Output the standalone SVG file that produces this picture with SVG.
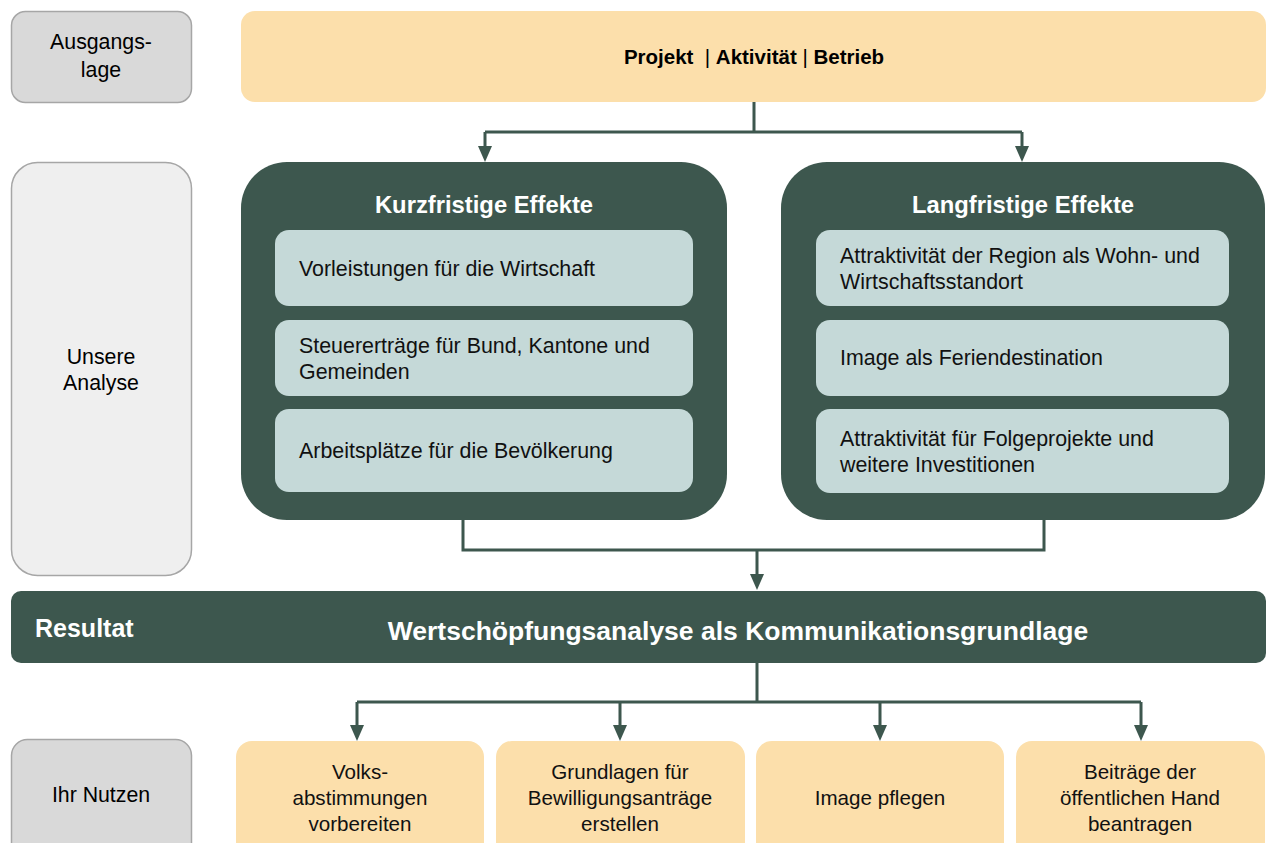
<svg xmlns="http://www.w3.org/2000/svg" width="1272" height="843" viewBox="0 0 1272 843">
<defs>
<style>
text{font-family:"Liberation Sans",Arial,sans-serif;}
.side{fill:#d9d9d9;stroke:#a6a6a6;stroke-width:1.5;}
.sideL{fill:#efefef;stroke:#a6a6a6;stroke-width:1.5;}
.st{font-size:21.3px;fill:#000;text-anchor:middle;}
.yel{fill:#fcdfab;}
.dark{fill:#3d574e;}
.inner{fill:#c5d9d8;}
.it{font-size:21.4px;fill:#111;}
.hd{font-size:23.8px;font-weight:bold;fill:#fff;text-anchor:middle;}
.bt{font-size:20.6px;fill:#111;text-anchor:middle;}
.con{fill:none;stroke:#3d574e;stroke-width:3;}
</style>
</defs>
<rect width="1272" height="843" fill="#fff"/>

<g id="connectors">
<path class="con" d="M754,102 V132 M485,132 H1022"/>
<path class="con" d="M485,132 V147"/>
<path class="con" d="M1022,132 V147"/>
<path d="M478,146 L492,146 L485,162 Z" fill="#3d574e"/>
<path d="M1015,146 L1029,146 L1022,162 Z" fill="#3d574e"/>
<path class="con" d="M463,520 V550 H1044 V520 M757,550 V575"/>
<path d="M750,574 L764,574 L757,590 Z" fill="#3d574e"/>
<path class="con" d="M757,663 V702 M357,702 H1141 M357,702 V726 M620,702 V726 M880,702 V726 M1141,702 V726"/>
<path d="M350,725 L364,725 L357,741 Z" fill="#3d574e"/>
<path d="M613,725 L627,725 L620,741 Z" fill="#3d574e"/>
<path d="M873,725 L887,725 L880,741 Z" fill="#3d574e"/>
<path d="M1134,725 L1148,725 L1141,741 Z" fill="#3d574e"/>
</g>

<g id="ausgangslage">
<rect class="side" x="11.5" y="11.5" width="180" height="91" rx="14"/>
<text class="st" x="101" y="49">Ausgangs-</text>
<text class="st" x="101" y="77">lage</text>
</g>

<g id="projekt">
<rect class="yel" x="241" y="11" width="1025" height="91" rx="14"/>
<text x="754" y="64" xml:space="preserve" style="font-size:20.5px;text-anchor:middle;fill:#000"><tspan font-weight="bold">Projekt</tspan>  | <tspan font-weight="bold">Aktivität</tspan> | <tspan font-weight="bold">Betrieb</tspan></text>
</g>

<g id="analyse">
<rect class="sideL" x="11.5" y="162.5" width="180" height="413" rx="26"/>
<text class="st" x="101" y="364">Unsere</text>
<text class="st" x="101" y="390">Analyse</text>
</g>

<g id="kurzfristig">
<rect class="dark" x="241" y="162" width="486" height="358" rx="46"/>
<text class="hd" x="484" y="213">Kurzfristige Effekte</text>
<rect class="inner" x="275" y="230" width="418" height="76" rx="14"/>
<text class="it" x="299" y="276">Vorleistungen für die Wirtschaft</text>
<rect class="inner" x="275" y="320" width="418" height="76" rx="14"/>
<text class="it" x="299" y="353">Steuererträge für Bund, Kantone und</text>
<text class="it" x="299" y="379">Gemeinden</text>
<rect class="inner" x="275" y="409" width="418" height="83" rx="14"/>
<text class="it" x="299" y="458">Arbeitsplätze für die Bevölkerung</text>
</g>

<g id="langfristig">
<rect class="dark" x="781" y="162" width="484" height="358" rx="46"/>
<text class="hd" x="1023" y="213">Langfristige Effekte</text>
<rect class="inner" x="816" y="230" width="413" height="76" rx="14"/>
<text class="it" x="840" y="263">Attraktivität der Region als Wohn- und</text>
<text class="it" x="840" y="289">Wirtschaftsstandort</text>
<rect class="inner" x="816" y="320" width="413" height="76" rx="14"/>
<text class="it" x="840" y="365">Image als Feriendestination</text>
<rect class="inner" x="816" y="409" width="413" height="84" rx="14"/>
<text class="it" x="840" y="446">Attraktivität für Folgeprojekte und</text>
<text class="it" x="840" y="472">weitere Investitionen</text>
</g>

<g id="resultat">
<rect class="dark" x="11" y="591" width="1255" height="72" rx="10"/>
<text x="35" y="637" style="font-size:25px;font-weight:bold;fill:#fff">Resultat</text>
<text x="738" y="640" style="font-size:26.5px;font-weight:bold;fill:#fff;text-anchor:middle">Wertschöpfungsanalyse als Kommunikationsgrundlage</text>
</g>

<g id="nutzen">
<rect class="side" x="11.5" y="739.5" width="180" height="120" rx="16"/>
<text class="st" x="101" y="802">Ihr Nutzen</text>
</g>

<g id="n1">
<rect class="yel" x="236" y="741" width="248" height="120" rx="16"/>
<text class="bt" x="360" y="779">Volks-</text>
<text class="bt" x="360" y="805">abstimmungen</text>
<text class="bt" x="360" y="831">vorbereiten</text>
</g>
<g id="n2">
<rect class="yel" x="496" y="741" width="249" height="120" rx="16"/>
<text class="bt" x="620" y="779">Grundlagen für</text>
<text class="bt" x="620" y="805">Bewilligungsanträge</text>
<text class="bt" x="620" y="831">erstellen</text>
</g>
<g id="n3">
<rect class="yel" x="756" y="741" width="248" height="120" rx="16"/>
<text class="bt" x="880" y="805">Image pflegen</text>
</g>
<g id="n4">
<rect class="yel" x="1016" y="741" width="249" height="120" rx="16"/>
<text class="bt" x="1140" y="779">Beiträge der</text>
<text class="bt" x="1140" y="805">öffentlichen Hand</text>
<text class="bt" x="1140" y="831">beantragen</text>
</g>
</svg>
